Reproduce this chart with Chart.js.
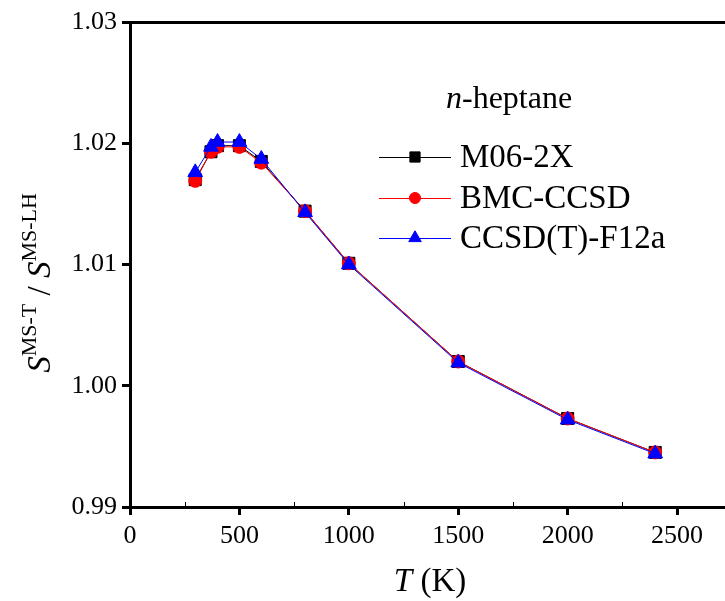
<!DOCTYPE html>
<html>
<head>
<meta charset="utf-8">
<script src="https://cdn.jsdelivr.net/npm/chart.js@4.4.0/dist/chart.umd.min.js"></script>
<style>
  html, body { margin: 0; padding: 0; background: #fff; }
  #wrap { width: 725px; height: 601px; }
</style>
</head>
<body>
<div id="wrap"><canvas id="chart" width="725" height="601"></canvas></div>
<script>
// values
const temps = [298.15, 370, 400, 500, 600, 800, 1000, 1500, 2000, 2400];
const m062x    = [1.0170, 1.0193, 1.0198, 1.0198, 1.0185, 1.0144, 1.0101, 1.0020, 0.9973, 0.9945];
const bmcCcsd  = [1.0169, 1.0193, 1.0197, 1.0197, 1.0184, 1.0144, 1.0101, 1.0020, 0.9973, 0.9945];
const ccsdF12a = [1.0176, 1.0197, 1.0201, 1.0201, 1.0187, 1.0143, 1.0100, 1.0019, 0.9972, 0.9944];

const xTicks = [0, 500, 1000, 1500, 2000, 2500];
const xMinor = [250, 750, 1250, 1750, 2250];
const yTicks = [0.99, 1.00, 1.01, 1.02, 1.03];

const seriesNames = ['M06-2X', 'BMC-CCSD', 'CCSD(T)-F12a'];
const seriesColors = ['#000000', '#ff0000', '#0000ff'];
const seriesMarkers = ['rect', 'circle', 'triangle'];
const seriesRadius = [8.5, 6.5, 8.5];
const seriesData = [m062x, bmcCcsd, ccsdF12a];

const serif = '"Liberation Serif", "Times New Roman", serif';

function toPoints(ys) {
  return temps.map((t, i) => ({ x: t, y: ys[i] }));
}

const datasets = seriesNames.map((name, i) => ({
  label: name,
  data: toPoints(seriesData[i]),
  borderColor: seriesColors[i],
  backgroundColor: seriesColors[i],
  borderWidth: 1,
  pointStyle: seriesMarkers[i],
  pointRadius: seriesRadius[i],
  pointBorderWidth: 1,
  pointHoverRadius: seriesRadius[i],
  order: 2 - i,          // blue on top, black underneath
  tension: 0
}));

// legend, axis titles, label, minor ticks
const decor = {
  id: 'decor',
  afterDraw(chart) {
    const ctx = chart.ctx;
    const xs = chart.scales.x;
    const area = chart.chartArea;
    ctx.save();

    // minor ticks inside the bottom axis
    ctx.strokeStyle = '#000';
    ctx.lineWidth = 1;
    xMinor.forEach(v => {
      const px = Math.round(xs.getPixelForValue(v)) + 0.5;
      ctx.beginPath();
      ctx.moveTo(px, area.bottom);
      ctx.lineTo(px, area.bottom - 5);
      ctx.stroke();
    });

    // legend
    const rowY = [157, 198, 238];
    chart.data.datasets.forEach((ds, i) => {
      const y = rowY[i];
      ctx.strokeStyle = ds.borderColor;
      ctx.lineWidth = 1;
      ctx.beginPath();
      ctx.moveTo(379, y + 0.5);
      ctx.lineTo(451, y + 0.5);
      ctx.stroke();
      ctx.fillStyle = ds.backgroundColor;
      ctx.strokeStyle = ds.borderColor;
      Chart.helpers.drawPoint(ctx, {
        pointStyle: ds.pointStyle, radius: ds.pointRadius * 0.85, rotation: 0, borderWidth: 1
      }, 415, y);
      ctx.fillStyle = '#000';
      ctx.font = '33px ' + serif;
      ctx.textBaseline = 'middle';
      ctx.textAlign = 'left';
      ctx.fillText(ds.label, 460, y + 1);
    });

    // n-heptane
    ctx.fillStyle = '#000';
    ctx.textBaseline = 'alphabetic';
    ctx.font = 'italic 32px ' + serif;
    ctx.fillText('n', 446, 108);
    const nw = ctx.measureText('n').width;
    ctx.font = '32px ' + serif;
    ctx.fillText('-heptane', 446 + nw, 108);

    // x title: T (K)
    ctx.font = 'italic 33px ' + serif;
    const tw = ctx.measureText('T').width;
    ctx.font = '33px ' + serif;
    const kw = ctx.measureText(' (K)').width;
    const x0 = 430 - (tw + kw) / 2;
    ctx.font = 'italic 33px ' + serif;
    ctx.fillText('T', x0, 591);
    ctx.font = '33px ' + serif;
    ctx.fillText(' (K)', x0 + tw, 591);

    // y title: S^MS-T / S^MS-LH
    const parts = [
      { t: 'S', f: 'italic 33px ', dy: 0 },
      { t: 'MS-T', f: '22px ', dy: -14 },
      { t: ' / ', f: '33px ', dy: 0 },
      { t: 'S', f: 'italic 33px ', dy: 0 },
      { t: 'MS-LH', f: '22px ', dy: -14 }
    ];
    let total = 0;
    parts.forEach(p => { ctx.font = p.f + serif; p.w = ctx.measureText(p.t).width; total += p.w; });
    ctx.translate(50, 283);
    ctx.rotate(-Math.PI / 2);
    let cx = -total / 2;
    parts.forEach(p => {
      ctx.font = p.f + serif;
      ctx.fillText(p.t, cx, p.dy);
      cx += p.w;
    });
    ctx.restore();
  }
};

new Chart(document.getElementById('chart'), {
  type: 'line',
  data: { datasets: datasets },
  options: {
    responsive: false,
    animation: false,
    events: [],
    layout: { autoPadding: false, padding: { left: 0, right: 0, top: 22, bottom: 0 } },
    plugins: { legend: { display: false }, tooltip: { enabled: false } },
    scales: {
      x: {
        type: 'linear',
        position: 'bottom',
        min: 0,
        max: 2719,
        afterBuildTicks: s => { s.ticks = xTicks.map(v => ({ value: v })); },
        afterFit: s => { s.height = 94; },
        border: { display: true, color: '#000', width: 3 },
        grid: { drawOnChartArea: false, drawTicks: true, tickLength: 8, tickWidth: 3, tickColor: '#000' },
        ticks: { color: '#000', font: { family: serif, size: 26 }, padding: 6, maxRotation: 0, callback: v => String(v) }
      },
      xTop: {
        type: 'linear',
        position: 'top',
        min: 0,
        max: 2719,
        afterFit: s => { s.height = 0; },
        border: { display: true, color: '#000', width: 3 },
        grid: { display: false, drawTicks: false },
        ticks: { display: false }
      },
      y: {
        type: 'linear',
        min: 0.99,
        max: 1.03,
        afterBuildTicks: s => { s.ticks = yTicks.map(v => ({ value: v })); },
        afterFit: s => { s.width = 130; },
        border: { display: true, color: '#000', width: 3 },
        grid: { drawOnChartArea: false, drawTicks: true, tickLength: 8, tickWidth: 3, tickColor: '#000' },
        ticks: { color: '#000', font: { family: serif, size: 26 }, padding: 5, callback: v => v.toFixed(2) }
      }
    }
  },
  plugins: [decor]
});
</script>
</body>
</html>
